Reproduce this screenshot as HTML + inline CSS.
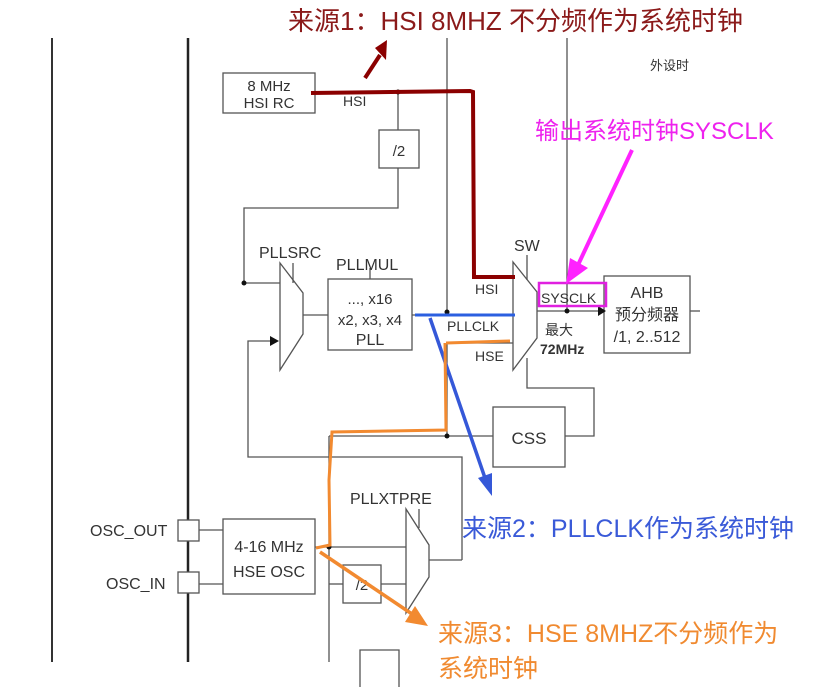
<!DOCTYPE html>
<html><head><meta charset="utf-8"><style>
html,body{margin:0;padding:0;background:#fff;}
svg{display:block;}
text{font-family:"Liberation Sans","Noto Sans CJK SC",sans-serif;}
</style></head><body>
<svg width="821" height="687" viewBox="0 0 821 687" xmlns="http://www.w3.org/2000/svg">
<g stroke="#555" stroke-width="1.3" fill="none">
<line x1="52" y1="38" x2="52" y2="662" stroke="#333" stroke-width="2"/>
<line x1="188" y1="38" x2="188" y2="662" stroke="#222" stroke-width="2.5"/>
<line x1="447" y1="38" x2="447" y2="312"/>
<line x1="567" y1="38" x2="567" y2="311"/>
<rect x="223" y="73" width="92" height="40"/>
<line x1="315" y1="92" x2="470" y2="92"/>
<rect x="379" y="130" width="40" height="38"/>
<line x1="398" y1="92" x2="398" y2="130"/>
<polyline points="398,168 398,208 244,208 244,283 280,283"/>
<polygon points="280,263 303,293 303,334 280,370"/>
<line x1="293" y1="263" x2="293" y2="283"/>
<polyline points="462,560 462,457 248,457 248,341 272,341"/>
<rect x="328" y="279" width="84" height="71"/>
<line x1="303" y1="315" x2="328" y2="315"/>
<line x1="370" y1="268" x2="370" y2="279"/>
<line x1="412" y1="315" x2="513" y2="315"/>
<line x1="447" y1="343" x2="513" y2="343"/>
<line x1="447" y1="343" x2="447" y2="436"/>
<line x1="329" y1="436" x2="493" y2="436"/>
<line x1="329" y1="436" x2="329" y2="662"/>
<rect x="493" y="407" width="72" height="60"/>
<polyline points="565,436 594,436 594,388 527,388 527,358"/>
<polygon points="513,262 537,292 537,338 513,370"/>
<line x1="527" y1="255" x2="527" y2="280"/>
<line x1="537" y1="311" x2="598" y2="311"/>
<rect x="604" y="276" width="86" height="77"/>
<line x1="690" y1="311" x2="700" y2="311"/>
<rect x="223" y="519" width="92" height="75"/>
<rect x="178" y="520" width="21" height="21" fill="#fff"/>
<rect x="178" y="572" width="21" height="21" fill="#fff"/>
<line x1="199" y1="530" x2="223" y2="530"/>
<line x1="199" y1="584" x2="223" y2="584"/>
<line x1="315" y1="547" x2="406" y2="547"/>
<line x1="329" y1="584" x2="343" y2="584"/>
<rect x="343" y="565" width="38" height="38"/>
<line x1="381" y1="584" x2="406" y2="584"/>
<polygon points="406,509 429,545 429,577 406,613"/>
<line x1="419" y1="509" x2="419" y2="528"/>
<line x1="429" y1="560" x2="462" y2="560"/>
<polyline points="360,687 360,650 399,650 399,687"/>
</g>
<polygon points="598,306 606,311 598,316" fill="#111"/>
<polygon points="270,336 279,341 270,346" fill="#111"/>
<g fill="#111">
<circle cx="398" cy="92" r="2.5"/><circle cx="244" cy="283" r="2.5"/>
<circle cx="447" cy="312" r="2.5"/><circle cx="567" cy="311" r="2.5"/>
<circle cx="447" cy="436" r="2.5"/><circle cx="329" cy="547" r="2.5"/>
</g>
<g font-size="15" fill="#333">
<text x="269" y="91" text-anchor="middle">8 MHz</text>
<text x="269" y="108" text-anchor="middle">HSI RC</text>
<text x="343" y="106" font-size="14">HSI</text>
<text x="399" y="156" text-anchor="middle">/2</text>
<text x="259" y="258" font-size="16">PLLSRC</text>
<text x="336" y="270" font-size="16">PLLMUL</text>
<text x="370" y="304" text-anchor="middle">..., x16</text>
<text x="370" y="325" text-anchor="middle">x2, x3, x4</text>
<text x="370" y="345" text-anchor="middle" font-size="16">PLL</text>
<text x="475" y="294" font-size="14">HSI</text>
<text x="447" y="331" font-size="14">PLLCLK</text>
<text x="475" y="361" font-size="14">HSE</text>
<text x="514" y="251" font-size="16">SW</text>
<text x="541" y="303" font-size="14">SYSCLK</text>
<text x="545" y="335" font-size="14">最大</text>
<text x="540" y="354" font-weight="bold" font-size="14">72MHz</text>
<text x="647" y="298" text-anchor="middle" font-size="16">AHB</text>
<text x="647" y="320" text-anchor="middle" font-size="16">预分频器</text>
<text x="647" y="342" text-anchor="middle" font-size="16">/1, 2..512</text>
<text x="650" y="70" font-size="13">外设时</text>
<text x="529" y="444" text-anchor="middle" font-size="17">CSS</text>
<text x="350" y="504" font-size="16">PLLXTPRE</text>
<text x="269" y="552" text-anchor="middle" font-size="16">4-16 MHz</text>
<text x="269" y="577" text-anchor="middle" font-size="16">HSE OSC</text>
<text x="90" y="536" font-size="16">OSC_OUT</text>
<text x="106" y="589" font-size="16">OSC_IN</text>
<text x="362" y="590" text-anchor="middle">/2</text>
</g>
<!-- red -->
<polyline points="311,93 470,91 473,92 474,277 515,277" stroke="#8b0000" stroke-width="4" fill="none"/>
<line x1="365" y1="78" x2="380" y2="55" stroke="#8b0000" stroke-width="4"/>
<polygon points="375,48 387,40 386,60" fill="#8b0000"/>
<text x="288" y="30" font-size="26" fill="#8b1a1a">来源1：HSI 8MHZ 不分频作为系统时钟</text>
<!-- magenta -->
<rect x="539" y="283" width="67" height="23" fill="none" stroke="#e020e0" stroke-width="2.5"/>
<line x1="632" y1="150" x2="578" y2="265" stroke="#ff22ff" stroke-width="4"/>
<polygon points="566,284 570,258 588,268" fill="#ff22ff"/>
<text x="535" y="139" font-size="24" fill="#ee22ee">输出系统时钟SYSCLK</text>
<!-- blue -->
<line x1="415" y1="315" x2="515" y2="315" stroke="#2b5fe0" stroke-width="3"/>
<line x1="430" y1="318" x2="485" y2="478" stroke="#3558d8" stroke-width="3.5"/>
<polygon points="492,496 478,478 492,473" fill="#3558d8"/>
<text x="462" y="537" font-size="25" fill="#3a5ad8">来源2：PLLCLK作为系统时钟</text>
<!-- orange -->
<path d="M446,343 L510,341 M445,343 L446,430 L332,432 L329,480 L330,545 L316,548" stroke="#f28a30" stroke-width="3" fill="none"/>
<line x1="320" y1="552" x2="412" y2="614" stroke="#f28a30" stroke-width="3.5"/>
<polygon points="428,626 405,622 415,606" fill="#f28a30"/>
<text x="438" y="642" font-size="25" fill="#f08a30">来源3：HSE 8MHZ不分频作为</text>
<text x="438" y="677" font-size="25" fill="#f08a30">系统时钟</text>
</svg>
</body></html>
